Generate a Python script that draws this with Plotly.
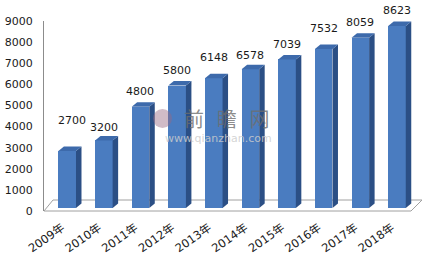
import plotly.graph_objects as go

years = ["2009年", "2010年", "2011年", "2012年", "2013年", "2014年", "2015年", "2016年", "2017年", "2018年"]
values = [2700, 3200, 4800, 5800, 6148, 6578, 7039, 7532, 8059, 8623]
y_ticks = [0, 1000, 2000, 3000, 4000, 5000, 6000, 7000, 8000, 9000]

# label nudges (pixels) - style only
label_yshift = [31, 13, 15, 15, 21, 14, 15, 20, 15, 15]
label_xshift = [5, 0, 0, 0, 0, 0, 0, 0, 0, 0]

W, H = 423, 256
FONT = "DejaVu Sans, Noto Sans CJK SC, sans-serif"

xs = list(range(len(values)))
bar_w = 0.48
dx = 0.15     # depth offset in x units
dy = 213      # depth offset in y units

def px(x):
    return x / W

def py(y):
    return 1 - y / H

fig = go.Figure()
fig.add_trace(go.Bar(x=xs, y=values, width=bar_w, marker=dict(color="#4a7cc0", line=dict(width=0)),
                     hoverinfo="skip", showlegend=False))
fig.add_trace(go.Scatter(x=[0], y=[0], yaxis="y2", mode="markers", marker=dict(opacity=0),
                         hoverinfo="skip", showlegend=False))

shapes = []
# floor
shapes.append(dict(type="path", xref="paper", yref="paper", layer="below",
                   path=f"M {px(44)} {py(211)} L {px(53)} {py(200)} L {px(422)} {py(200)} L {px(411)} {py(211)} Z",
                   line=dict(color="#a0a0a0", width=1), fillcolor="rgba(0,0,0,0)"))
for x, v in zip(xs, values):
    r = x + bar_w / 2
    l = x - bar_w / 2
    side = f"M {r} 0 L {r+dx} {dy} L {r+dx} {v+dy} L {r} {v} Z"
    top = f"M {l} {v} L {l+dx} {v+dy} L {r+dx} {v+dy} L {r} {v} Z"
    shapes.append(dict(type="path", xref="x", yref="y", path=side,
                       fillcolor="#2b4f85", line=dict(width=0)))
    shapes.append(dict(type="path", xref="x", yref="y", path=top,
                       fillcolor="#3d6aab", line=dict(width=0)))
# watermark logo
shapes.append(dict(type="circle", xref="paper", yref="paper",
                   x0=px(153), x1=px(172), y0=py(128), y1=py(109),
                   fillcolor="rgba(150,105,130,0.45)", line=dict(width=0)))

annotations = []
for x, v, ys, xsft in zip(xs, values, label_yshift, label_xshift):
    annotations.append(dict(x=x, y=v, xref="x", yref="y", text=str(v), showarrow=False,
                            yanchor="middle", xanchor="center", yshift=ys, xshift=xsft,
                            font=dict(family=FONT, size=11, color="#1a1a1a")))
annotations.append(dict(x=px(226), y=py(120), xref="paper", yref="paper", text="前  瞻  网",
                        showarrow=False, font=dict(family=FONT, size=20, color="rgba(110,110,110,0.8)")))
annotations.append(dict(x=px(218), y=py(138), xref="paper", yref="paper", text="www.qianzhan.com",
                        showarrow=False, font=dict(family=FONT, size=11, color="rgba(205,205,205,0.85)")))

x0 = -(67.2 - 44) / 36.64
x1 = x0 + (W - 44) / 36.64

fig.update_layout(
    width=W, height=H, autosize=False,
    margin=dict(l=0, r=0, t=0, b=0),
    paper_bgcolor="white", plot_bgcolor="rgba(0,0,0,0)",
    font=dict(family=FONT, size=11, color="#1a1a1a"),
    bargap=0,
    xaxis=dict(domain=[44 / W, 1], range=[x0, x1], tickmode="array", tickvals=xs, ticktext=years,
               tickangle=-35, showgrid=False, zeroline=False, showline=False, ticks="",
               automargin=False, ticklabelstandoff=10, ticklabelshift=-5,
               tickfont=dict(family=FONT, size=11.5, color="#1a1a1a")),
    yaxis=dict(domain=[py(208), py(18)], range=[0, 9000], showticklabels=False, showgrid=False,
               zeroline=False, showline=False, ticks="", automargin=False),
    yaxis2=dict(domain=[py(211), py(21)], range=[0, 9000], side="left", anchor="x",
                tickmode="array", tickvals=y_ticks, showgrid=False, zeroline=False, automargin=False,
                showline=True, linecolor="#8c8c8c", linewidth=1, ticks="", ticklabelstandoff=8,
                tickfont=dict(family=FONT, size=11, color="#1a1a1a")),
    shapes=shapes, annotations=annotations,
)

fig.write_html("out.html")
